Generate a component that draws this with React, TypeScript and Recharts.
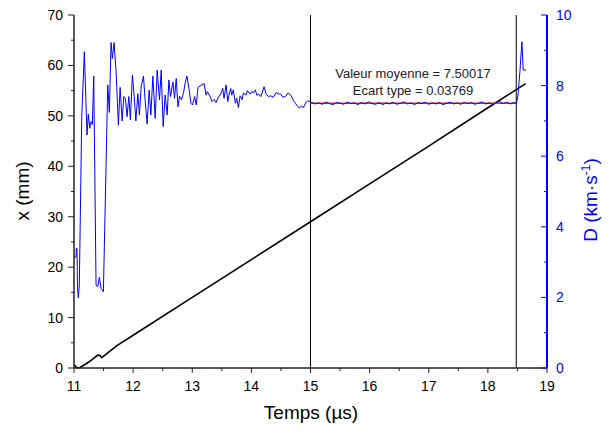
import React from 'react';
import { LineChart, Line, XAxis, YAxis, ReferenceLine } from 'recharts';

// position x (mm) vs time (µs)
const posTime = [11.0, 11.02, 11.05, 11.1, 11.2, 11.3, 11.4, 11.44, 11.47, 11.55, 11.72, 12.0, 13.0, 14.0, 15.0, 16.0, 17.0, 18.0, 18.64];
const posMm = [0.6, 0.45, 0.0, 0.1, 0.8, 1.6, 2.55, 2.5, 2.05, 2.78, 4.4, 6.5, 14.0, 21.5, 29.0, 36.5, 44.0, 51.6, 56.4];

// detonation velocity D (km/s) vs time (µs)
const velTime = [
  11.0, 11.034, 11.039, 11.051, 11.059, 11.073, 11.09, 11.131, 11.175, 11.22,
  11.242, 11.266, 11.288, 11.31, 11.334, 11.373, 11.402, 11.429, 11.458, 11.497,
  11.571, 11.598, 11.627, 11.649, 11.678, 11.712, 11.751, 11.78, 11.814, 11.842,
  11.869, 11.898, 11.927, 11.954, 11.988, 12.017, 12.046, 12.08, 12.107, 12.136,
  12.175, 12.203, 12.237, 12.271, 12.3, 12.334, 12.373, 12.407, 12.446, 12.475,
  12.508, 12.542, 12.576, 12.605, 12.632, 12.673, 12.7, 12.729, 12.758, 12.785,
  12.819, 12.853, 12.881, 12.91, 12.944, 12.978, 13.005, 13.039, 13.068, 13.097,
  13.2, 13.234, 13.255, 13.301, 13.335, 13.369, 13.403, 13.442, 13.482, 13.516,
  13.538, 13.572, 13.601, 13.628, 13.651, 13.668, 13.695, 13.729, 13.753, 13.78,
  13.809, 13.843, 13.865, 13.91, 13.932, 13.978, 14.007, 14.034, 14.068, 14.091,
  14.125, 14.159, 14.181, 14.215, 14.249, 14.288, 14.328, 14.372, 14.418, 14.464,
  14.497, 14.531, 14.575, 14.621, 14.667, 14.711, 14.745, 14.778, 14.812, 14.846,
  14.88, 14.914, 14.947, 14.981,
  15.02, 15.08, 15.14, 15.2, 15.26, 15.32, 15.38, 15.44, 15.5, 15.56,
  15.62, 15.68, 15.74, 15.8, 15.86, 15.92, 15.98, 16.04, 16.1, 16.16,
  16.22, 16.28, 16.34, 16.4, 16.46, 16.52, 16.58, 16.64, 16.7, 16.76,
  16.82, 16.88, 16.94, 17.0, 17.06, 17.12, 17.18, 17.24, 17.3, 17.36,
  17.42, 17.48, 17.54, 17.6, 17.66, 17.72, 17.78, 17.84, 17.9, 17.96,
  18.02, 18.08, 18.14, 18.2, 18.26, 18.32, 18.38, 18.44, 18.483,
  18.508, 18.542, 18.576, 18.598, 18.644,
];
const velD = [
  3.14, 3.14, 3.39, 3.39, 2.3, 1.99, 2.35, 7.12, 8.96, 6.6,
  7.19, 6.79, 6.98, 6.9, 8.27, 2.35, 2.3, 2.57, 2.26, 2.16,
  8.02, 7.24, 9.22, 8.77, 9.22, 8.39, 6.88, 7.95, 7.0, 7.69,
  7.64, 7.12, 7.69, 7.03, 8.3, 7.72, 7.0, 7.77, 7.17, 7.97,
  8.27, 7.59, 6.91, 7.87, 7.17, 8.27, 7.07, 8.44, 7.59, 8.44,
  6.84, 7.73, 7.17, 8.16, 7.69, 8.1, 7.64, 8.2, 7.4, 7.7,
  7.6, 7.8, 8.08, 8.27, 7.92, 7.5, 7.45, 7.69, 7.45, 7.95,
  8.06, 7.73, 7.83, 7.69, 7.55, 7.61, 7.52, 7.67, 7.76, 7.92,
  7.64, 8.02, 7.55, 7.79, 7.92, 7.73, 7.88, 7.5, 7.64, 7.38,
  7.71, 7.6, 7.79, 7.73, 7.86, 7.76, 7.83, 7.79, 7.88, 7.73,
  7.76, 7.69, 7.79, 7.97, 7.76, 7.69, 7.71, 7.67, 7.8, 7.76,
  7.76, 7.67, 7.69, 7.79, 7.73, 7.57, 7.5, 7.42, 7.36, 7.42,
  7.38, 7.5, 7.57, 7.55,
  7.52, 7.48, 7.51, 7.47, 7.53, 7.49, 7.46, 7.52, 7.5, 7.47,
  7.53, 7.49, 7.51, 7.46, 7.52, 7.48, 7.54, 7.49, 7.47, 7.52,
  7.46, 7.51, 7.48, 7.53, 7.47, 7.5, 7.54, 7.48, 7.51, 7.46,
  7.52, 7.49, 7.53, 7.47, 7.51, 7.48, 7.52, 7.46, 7.5, 7.53,
  7.48, 7.51, 7.47, 7.53, 7.49, 7.52, 7.47, 7.5, 7.54, 7.48,
  7.51, 7.47, 7.52, 7.55, 7.49, 7.53, 7.48, 7.52, 7.5,
  7.7, 8.4, 9.24, 8.44, 8.44,
];

// mean value over the fit window
const fitTime = [15.0, 18.48];
const fitMean = [7.50017, 7.50017];
const windowBounds = [15.0, 18.48];

const timeTicks = [11, 11.5, 12, 12.5, 13, 13.5, 14, 14.5, 15, 15.5, 16, 16.5, 17, 17.5, 18, 18.5, 19];
const posTicks = [0, 5, 10, 15, 20, 25, 30, 35, 40, 45, 50, 55, 60, 65, 70];
const velTicks = [0, 1, 2, 3, 4, 5, 6, 7, 8, 9, 10];

const FONT = '"Liberation Sans", Arial, sans-serif';
const BLUE = '#0000ff';

const posData = posTime.map((t, i) => ({ t, v: posMm[i] }));
const velData = velTime.map((t, i) => ({ t, v: velD[i] }));
const fitData = fitTime.map((t, i) => ({ t, v: fitMean[i] }));

const isMajor = (v: number, step: number) => Math.abs(v / step - Math.round(v / step)) < 1e-6;

const BottomTick = ({ x, y, payload }: any) => {
  const major = isMajor(payload.value, 1);
  return (
    <g>
      <line x1={x} x2={x} y1={y} y2={y + (major ? 5 : 3)} stroke="#222" />
      {major && (
        <text x={x} y={y + 23} textAnchor="middle" fontSize={14} fontFamily={FONT} fill="#000">
          {payload.value}
        </text>
      )}
    </g>
  );
};

const TopTick = ({ x, y }: any) => <line x1={x} x2={x} y1={y} y2={y + 5} stroke="#222" />;

const LeftTick = ({ x, y, payload }: any) => {
  const major = isMajor(payload.value, 10);
  return (
    <g>
      <line x1={x} x2={x - (major ? 6 : 3)} y1={y} y2={y} stroke="#222" />
      {major && (
        <text x={x - 11} y={y + 5} textAnchor="end" fontSize={14} fontFamily={FONT} fill="#000">
          {payload.value}
        </text>
      )}
    </g>
  );
};

const RightTick = ({ x, y, payload }: any) => {
  const major = isMajor(payload.value, 2);
  return (
    <g>
      <line x1={x} x2={x - (major ? 6 : 3)} y1={y} y2={y} stroke={BLUE} />
      {major && (
        <text x={x + 9} y={y + 5} textAnchor="start" fontSize={14} fontFamily={FONT} fill={BLUE}>
          {payload.value}
        </text>
      )}
    </g>
  );
};

export default function App() {
  return (
    <div style={{ position: 'absolute', left: 0, top: 0, width: 608, height: 432, background: '#fff' }}>
      <LineChart width={608} height={432} margin={{ top: 15, right: 11, bottom: 24, left: 14 }}>
        <XAxis
          xAxisId="b"
          dataKey="t"
          type="number"
          domain={[11, 19]}
          ticks={timeTicks}
          interval={0}
          allowDataOverflow
          height={40}
          tickSize={0}
          tickMargin={0}
          tickLine={false}
          tick={<BottomTick />}
          axisLine={{ stroke: '#222', strokeWidth: 1.5 }}
        />
        <XAxis
          xAxisId="top"
          orientation="top"
          dataKey="t"
          type="number"
          domain={[11, 19]}
          ticks={timeTicks}
          interval={0}
          height={0}
          tickSize={0}
          tickMargin={0}
          tickLine={false}
          tick={<TopTick />}
          axisLine={{ stroke: '#000', strokeWidth: 1 }}
        />
        <YAxis
          yAxisId="x"
          type="number"
          domain={[0, 70]}
          ticks={posTicks}
          interval={0}
          width={60}
          tickSize={0}
          tickMargin={0}
          tickLine={false}
          tick={<LeftTick />}
          axisLine={{ stroke: '#222', strokeWidth: 1.5 }}
        />
        <YAxis
          yAxisId="d"
          orientation="right"
          type="number"
          domain={[0, 10]}
          ticks={velTicks}
          interval={0}
          width={50}
          tickSize={0}
          tickMargin={0}
          tickLine={false}
          tick={<RightTick />}
          axisLine={{ stroke: BLUE, strokeWidth: 2 }}
        />
        {windowBounds.map((b) => (
          <ReferenceLine key={b} x={b} xAxisId="b" yAxisId="x" stroke="#000" strokeWidth={1} />
        ))}
        <Line
          data={posData}
          xAxisId="b"
          yAxisId="x"
          dataKey="v"
          type="linear"
          stroke="#000"
          strokeWidth={1.6}
          dot={false}
          isAnimationActive={false}
        />
        <Line
          data={fitData}
          xAxisId="b"
          yAxisId="d"
          dataKey="v"
          type="linear"
          stroke="#ff2020"
          strokeWidth={1.6}
          dot={false}
          isAnimationActive={false}
        />
        <Line
          data={velData}
          xAxisId="b"
          yAxisId="d"
          dataKey="v"
          type="linear"
          stroke={BLUE}
          strokeWidth={1}
          dot={false}
          isAnimationActive={false}
        />
        <text x={413} y={78} textAnchor="middle" fontSize={13} fontFamily={FONT} fill="#222">
          Valeur moyenne = 7.50017
        </text>
        <text x={413} y={95} textAnchor="middle" fontSize={13} fontFamily={FONT} fill="#222">
          Ecart type = 0.03769
        </text>
        <text x={311} y={419} textAnchor="middle" fontSize={19} fontFamily={FONT} fill="#000">
          Temps (µs)
        </text>
        <text x={0} y={0} transform="translate(29,191) rotate(-90)" textAnchor="middle" fontSize={19} fontFamily={FONT} fill="#000">
          x (mm)
        </text>
        <text x={0} y={0} transform="translate(597,200) rotate(-90)" textAnchor="middle" fontSize={19} fontFamily={FONT} fill={BLUE}>
          D (km·s<tspan dy={-7} fontSize={12}>-1</tspan><tspan dy={7}>)</tspan>
        </text>
      </LineChart>
    </div>
  );
}
